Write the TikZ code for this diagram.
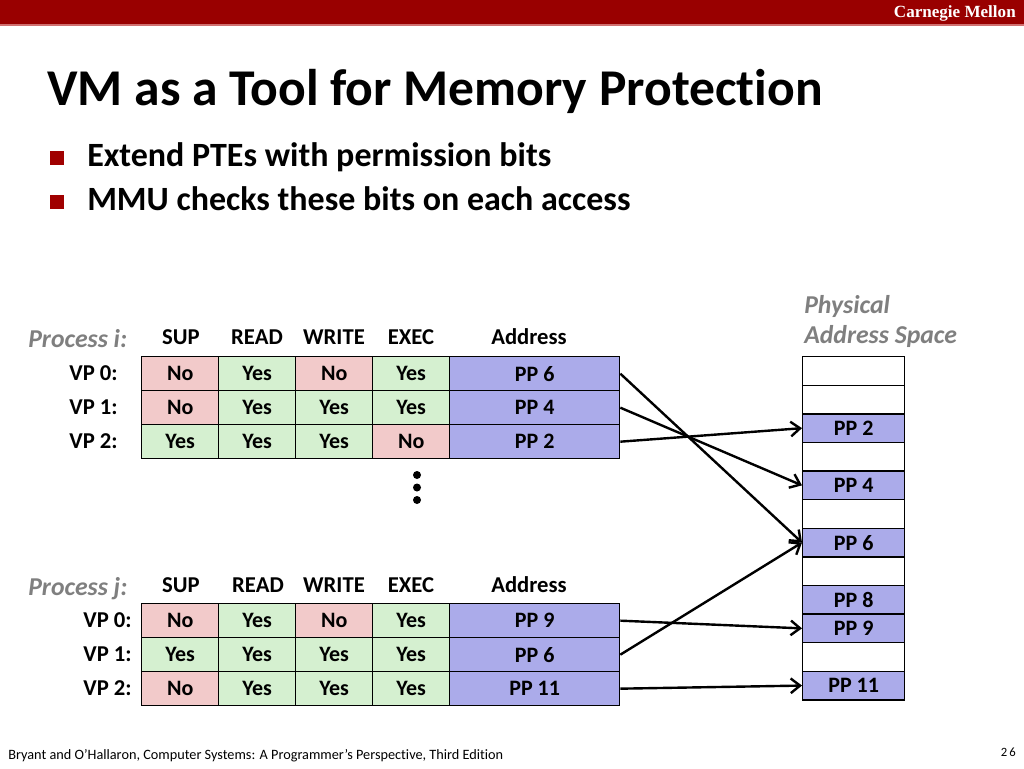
\documentclass[tikz,border=0pt]{standalone}
\usepackage{fontspec}
\setmainfont{Carlito}[Ligatures=NoCommon]
\newfontfamily\timesf{Liberation Serif}
\usetikzlibrary{arrows.meta}
\definecolor{cmured}{HTML}{990000}
\definecolor{cmuline}{HTML}{D07070}
\definecolor{nopink}{HTML}{F2CACA}
\definecolor{yesgreen}{HTML}{D5F0D0}
\definecolor{ppblue}{HTML}{ABABEA}
\definecolor{labgray}{HTML}{7F7F7F}
\definecolor{bulred}{HTML}{A00000}
\tikzset{
  cell/.style={draw, line width=1pt, minimum width=57.75pt, minimum height=25.5pt, inner sep=0pt, anchor=north west, font=\bfseries\fontsize{16.5}{18}\selectfont},
  Yes/.style={cell, fill=yesgreen},
  No/.style={cell, fill=nopink},
  addr/.style={cell, fill=ppblue, minimum width=127.5pt},
  phys/.style={draw, line width=1pt, minimum width=76.5pt, minimum height=21.45pt, inner sep=0pt, anchor=north west, fill=white, font=\bfseries\fontsize{16.5}{18}\selectfont},
  physpp/.style={phys, fill=ppblue},
  hdr/.style={font=\bfseries\fontsize{17}{19}\selectfont, inner sep=0pt},
  proclab/.style={font=\bfseries\itshape\fontsize{19.3}{22}\selectfont, text=labgray, inner sep=0pt, anchor=west},
  vplab/.style={font=\bfseries\fontsize{17}{19}\selectfont, inner sep=0pt, anchor=east},
  bulletsq/.style={fill=bulred, minimum size=10.5pt, inner sep=0pt},
  bultext/.style={font=\bfseries\fontsize{25.5}{30}\selectfont, inner sep=0pt, anchor=west},
  arr/.style={line width=1.8pt, -{Straight Barb[length=7pt,width=11pt]}},
  dot/.style={circle, fill=black, minimum size=6pt, inner sep=0pt}
}
\begin{document}
\begin{tikzpicture}[x=0.75pt,y=-0.75pt]
\useasboundingbox (0,0) rectangle (1024,768);
% header bar
\fill[cmured] (0,0) rectangle (1024,24);
\fill[cmuline] (0,24) rectangle (1024,25.5);
\node[anchor=east, text=white, inner sep=0pt, font=\timesf\bfseries\fontsize{12.8}{14}\selectfont] (cmu) at (1016,13) {Carnegie Mellon};
% title
\node[anchor=base west, inner sep=0pt, font=\bfseries\fontsize{38.7}{44}\selectfont] (title) at (47,105) {VM as a Tool for Memory Protection};
% bullets
\node[bulletsq] (b1) at (57,158) {};
\node[bultext] (t1) at (87,157) {Extend PTEs with permission bits};
\node[bulletsq] (b2) at (57,201.5) {};
\node[bultext] (t2) at (87,199) {MMU checks these bits on each access};
% process i
\node[proclab] (proci) at (28,339) {Process i:};
\node[hdr] (hi1) at (181,337) {SUP};
\node[hdr] (hi2) at (257,337) {READ};
\node[hdr] (hi3) at (334,337) {WRITE};
\node[hdr] (hi4) at (411,337) {EXEC};
\node[hdr] (hi5) at (529,337) {Address};
\foreach \r/\y/\a/\b/\c/\d/\pp in {0/356/No/Yes/No/Yes/6, 1/390/No/Yes/Yes/Yes/4, 2/424/Yes/Yes/Yes/No/2}{
  \node[vplab] (ivp\r) at (118,\y+17) {VP \r:};
  \node[\a] (is\r) at (141,\y) {\a};
  \node[\b] (ir\r) at (218,\y) {\b};
  \node[\c] (iw\r) at (295,\y) {\c};
  \node[\d] (ie\r) at (372,\y) {\d};
  \node[addr] (ia\r) at (449,\y) {PP \pp};
}
% ellipsis
\node[dot] (d1) at (417,475) {};
\node[dot] (d2) at (417,487.5) {};
\node[dot] (d3) at (417,500) {};
% process j
\node[proclab] (procj) at (28,589) {Process j:};
\node[hdr] (hj1) at (181,585) {SUP};
\node[hdr] (hj2) at (258,585) {READ};
\node[hdr] (hj3) at (334,585) {WRITE};
\node[hdr] (hj4) at (411,585) {EXEC};
\node[hdr] (hj5) at (529,585) {Address};
\foreach \r/\y/\a/\b/\c/\d/\pp in {0/603/No/Yes/No/Yes/9, 1/637/Yes/Yes/Yes/Yes/6, 2/671/No/Yes/Yes/Yes/11}{
  \node[vplab] (jvp\r) at (132,\y+17) {VP \r:};
  \node[\a] (js\r) at (141,\y) {\a};
  \node[\b] (jr\r) at (218,\y) {\b};
  \node[\c] (jw\r) at (295,\y) {\c};
  \node[\d] (je\r) at (372,\y) {\d};
  \node[addr] (ja\r) at (449,\y) {PP \pp};
}
% physical address space
\node[proclab, anchor=west] (phys1) at (804,306) {Physical};
\node[proclab, anchor=west] (phys2) at (804,336) {Address Space};
\node[phys] (p0) at (802,356) {};
\node[phys] (p1) at (802,384.6) {};
\node[physpp] (pp2) at (802,413.2) {PP 2};
\node[phys] (p3) at (802,441.8) {};
\node[physpp] (pp4) at (802,470.4) {PP 4};
\node[phys] (p5) at (802,499) {};
\node[physpp] (pp6) at (802,527.6) {PP 6};
\node[phys] (p7) at (802,556.2) {};
\node[physpp] (pp8) at (802,584.8) {PP 8};
\node[physpp] (pp9) at (802,613.4) {PP 9};
\node[phys] (p10) at (802,642) {};
\node[physpp] (pp11) at (802,670.6) {PP 11};
% mappings
\draw[arr] (ia0.east) -- (pp6.west);
\draw[arr] (ia1.east) -- (pp4.west);
\draw[arr] (ia2.east) -- (pp2.west);
\draw[arr] (ja0.east) -- (pp9.west);
\draw[arr] (ja1.east) -- (pp6.west);
\draw[arr] (ja2.east) -- (pp11.west);
% footer
\node[anchor=west, inner sep=0pt, font=\fontsize{10.7}{12}\selectfont] (foot) at (8,756) {Bryant and O’Hallaron, Computer Systems: A Programmer’s Perspective, Third Edition};
\node[anchor=east, inner sep=0pt, font=\fontsize{9.5}{11}\selectfont] (pnum) at (1016,752) {2\,6};
\end{tikzpicture}
\end{document}
